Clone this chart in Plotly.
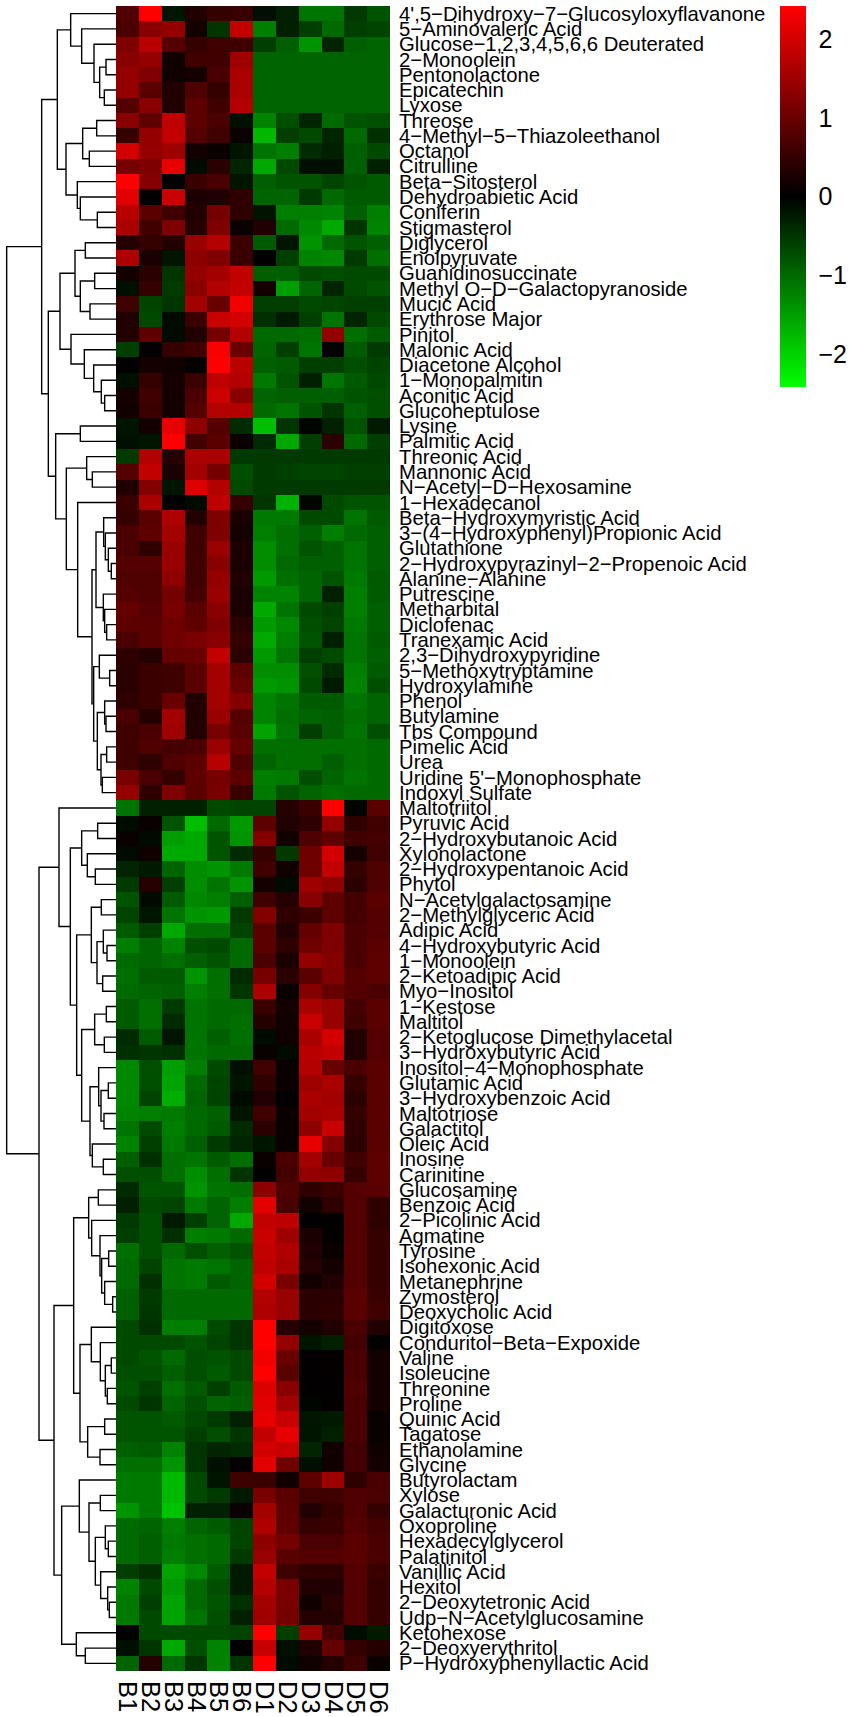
import plotly.graph_objects as go

COLUMNS = ["B1","B2","B3","B4","B5","B6","D1","D2","D3","D4","D5","D6"]
ROWS = [
"4',5−Dihydroxy−7−Glucosyloxyflavanone","5−Aminovaleric Acid","Glucose−1,2,3,4,5,6,6 Deuterated","2−Monoolein","Pentonolactone","Epicatechin","Lyxose","Threose","4−Methyl−5−Thiazoleethanol","Octanol","Citrulline","Beta−Sitosterol","Dehydroabietic Acid","Coniferin","Stigmasterol","Diglycerol","Enolpyruvate","Guanidinosuccinate","Methyl O−D−Galactopyranoside","Mucic Acid","Erythrose Major","Pinitol","Malonic Acid","Diacetone Alcohol","1−Monopalmitin","Aconitic Acid","Glucoheptulose","Lysine","Palmitic Acid","Threonic Acid","Mannonic Acid","N−Acetyl−D−Hexosamine","1−Hexadecanol","Beta−Hydroxymyristic Acid","3−(4−Hydroxyphenyl)Propionic Acid","Glutathione","2−Hydroxypyrazinyl−2−Propenoic Acid","Alanine−Alanine","Putrescine","Metharbital","Diclofenac","Tranexamic Acid","2,3−Dihydroxypyridine","5−Methoxytryptamine","Hydroxylamine","Phenol","Butylamine","Tbs Compound","Pimelic Acid","Urea","Uridine 5'−Monophosphate","Indoxyl Sulfate","Maltotriitol","Pyruvic Acid","2−Hydroxybutanoic Acid","Xylonolactone","2−Hydroxypentanoic Acid","Phytol","N−Acetylgalactosamine","2−Methylglyceric Acid","Adipic Acid","4−Hydroxybutyric Acid","1−Monoolein","2−Ketoadipic Acid","Myo−Inositol","1−Kestose","Maltitol","2−Ketoglucose Dimethylacetal","3−Hydroxybutyric Acid","Inositol−4−Monophosphate","Glutamic Acid","3−Hydroxybenzoic Acid","Maltotriose","Galactitol","Oleic Acid","Inosine","Carinitine","Glucosamine","Benzoic Acid","2−Picolinic Acid","Agmatine","Tyrosine","Isohexonic Acid","Metanephrine","Zymosterol","Deoxycholic Acid","Digitoxose","Conduritol−Beta−Expoxide","Valine","Isoleucine","Threonine","Proline","Quinic Acid","Tagatose","Ethanolamine","Glycine","Butyrolactam","Xylose","Galacturonic Acid","Oxoproline","Hexadecylglycerol","Palatinitol","Vanillic Acid","Hexitol","2−Deoxytetronic Acid","Udp−N−Acetylglucosamine","Ketohexose","2−Deoxyerythritol","P−Hydroxyphenyllactic Acid",
]

VALUES = [
[0.75,2.42,-0.2,0.3,0.5,0.55,-0.15,-0.3,-1.1,-1.1,-0.55,-0.8],
[0.7,1.3,1.4,0.2,-0.5,1.85,-1.2,-0.3,-0.6,-1.0,-0.6,-0.65],
[1.2,1.75,0.8,0.5,0.6,0.6,-0.6,-0.9,-1.4,-0.35,-0.9,-0.95],
[1.3,1.4,0.15,0.6,0.6,1.5,-0.95,-0.95,-0.95,-0.95,-0.95,-0.95],
[1.4,1.2,0.15,0.2,0.7,1.6,-0.95,-0.95,-0.95,-0.95,-0.95,-0.95],
[1.4,0.85,0.3,0.75,0.5,1.6,-0.95,-0.95,-0.95,-0.95,-0.95,-0.95],
[0.8,1.3,0.3,0.9,0.6,1.7,-0.95,-0.95,-0.95,-0.95,-0.95,-0.95],
[1.3,0.9,1.8,0.9,0.7,-0.15,-1.25,-0.75,-0.35,-1.0,-0.8,-0.75],
[0.5,1.4,1.85,0.8,0.6,0.1,-1.75,-0.6,-0.7,-0.35,-1.0,-0.45],
[2.0,1.4,1.5,0.2,0.1,-0.2,-1.1,-1.2,-0.4,-0.3,-0.9,-0.7],
[1.1,1.2,2.2,-0.1,0.4,-0.35,-1.6,-0.7,-0.15,-0.15,-0.9,-0.3],
[2.42,1.25,0.02,0.55,0.7,-0.2,-0.9,-0.8,-0.8,-0.65,-0.8,-0.85],
[2.15,0.02,1.9,0.25,0.3,0.45,-0.95,-0.95,-0.55,-1.0,-0.85,-0.85],
[1.75,0.85,0.6,0.3,1.1,0.45,-0.2,-1.2,-1.2,-1.25,-0.9,-1.2],
[1.6,0.6,1.2,0.35,1.2,0.1,0.3,-1.0,-1.3,-1.6,-0.5,-1.25],
[0.35,0.5,0.3,1.45,1.7,0.55,-0.85,-0.2,-1.4,-1.0,-0.8,-0.9],
[1.65,0.25,-0.2,1.35,1.2,0.55,0.02,-0.6,-1.25,-1.3,-0.55,-1.05],
[0.2,0.4,-0.5,1.4,1.55,1.85,-0.9,-0.9,-0.7,-0.75,-0.7,-0.7],
[-0.15,0.5,-0.55,1.3,1.7,1.85,0.2,-1.5,-0.95,-0.35,-0.7,-0.8],
[0.6,-0.65,-0.5,1.55,1.0,2.3,-0.6,-0.6,-0.7,-0.65,-0.6,-0.6],
[0.3,-0.7,-0.1,0.55,1.9,2.0,-0.45,-0.25,-0.6,-1.1,-0.35,-0.7],
[0.3,0.9,-0.1,0.3,1.1,1.7,-1.0,-1.0,-1.05,1.4,-1.05,-0.85],
[-0.6,0.02,0.5,0.6,2.35,1.0,-0.95,-0.6,-1.1,0.05,-0.85,-0.55],
[0.02,0.2,0.15,0.05,2.4,1.75,-0.9,-0.85,-0.6,-0.6,-0.75,-0.65],
[-0.15,0.5,0.2,0.55,1.8,1.7,-1.15,-0.8,-0.3,-1.1,-0.85,-0.7],
[0.2,0.6,0.2,0.7,1.95,1.3,-0.95,-0.9,-0.9,-0.9,-0.8,-0.75],
[0.15,0.55,0.2,0.8,1.7,1.7,-1.0,-1.1,-0.8,-0.5,-0.9,-0.75],
[-0.2,0.2,2.2,1.35,0.8,-0.4,-1.8,-0.5,-0.05,-0.3,-0.8,-0.25],
[-0.15,-0.2,2.4,0.6,0.85,0.1,-0.4,-1.6,-0.6,0.4,-1.0,-0.6],
[-0.55,1.7,0.35,1.6,1.6,-0.55,-0.55,-0.55,-0.55,-0.55,-0.55,-0.55],
[0.8,1.85,0.25,1.55,1.1,-0.75,-0.55,-0.6,-0.65,-0.65,-0.6,-0.6],
[0.3,1.25,-0.2,2.1,1.7,-0.7,-0.55,-0.55,-0.55,-0.55,-0.55,-0.55],
[0.55,1.6,0.01,-0.1,1.8,0.5,-0.5,-1.7,-0.05,-0.7,-0.8,-0.8],
[0.5,0.85,1.65,0.3,1.2,0.25,-1.15,-1.15,-0.7,-0.7,-1.1,-0.85],
[0.7,0.9,1.55,0.6,1.2,0.2,-1.2,-1.05,-0.9,-1.2,-1.0,-0.9],
[0.7,0.45,1.45,0.6,1.45,0.25,-1.35,-1.05,-0.8,-0.9,-1.1,-0.9],
[0.8,0.8,1.45,0.6,1.3,0.25,-1.35,-1.0,-0.9,-0.9,-1.1,-0.9],
[0.75,0.75,1.35,0.6,1.4,0.3,-1.45,-1.05,-0.95,-0.8,-1.15,-0.85],
[0.8,0.75,1.1,0.65,1.45,0.25,-1.25,-1.25,-0.95,-0.3,-1.2,-0.85],
[0.95,0.8,1.15,0.85,1.3,0.25,-1.6,-1.1,-0.7,-0.6,-1.2,-0.9],
[0.9,0.85,1.05,0.9,1.2,0.4,-1.45,-1.3,-0.75,-0.65,-1.15,-0.9],
[0.7,0.85,1.05,1.15,1.3,0.5,-1.6,-1.2,-0.8,-0.3,-1.1,-0.85],
[0.45,0.35,0.95,1.0,1.85,0.4,-1.45,-1.1,-0.6,-0.7,-1.1,-0.9],
[0.4,0.55,0.6,0.85,1.55,0.9,-1.35,-1.35,-0.75,-0.4,-1.2,-0.85],
[0.4,0.55,0.6,0.85,1.55,1.0,-1.45,-1.4,-0.7,-0.25,-1.25,-0.75],
[0.45,0.55,1.0,0.3,1.55,1.25,-1.25,-1.1,-0.85,-0.85,-1.1,-0.95],
[0.7,0.35,1.55,0.3,1.45,0.8,-1.25,-1.05,-0.95,-0.9,-1.05,-0.95],
[0.6,0.7,1.5,0.3,1.15,0.85,-1.55,-1.1,-0.6,-0.9,-1.1,-0.75],
[0.6,0.75,0.65,0.7,1.45,0.95,-1.05,-1.05,-1.05,-1.05,-1.05,-1.0],
[0.6,0.45,0.75,0.85,1.75,0.75,-0.95,-1.05,-1.05,-0.9,-1.05,-1.0],
[1.15,0.7,0.5,0.9,1.1,0.9,-1.2,-1.15,-0.75,-0.95,-1.1,-1.0],
[1.4,0.45,1.2,0.85,1.15,0.55,-1.15,-0.8,-0.95,-1.05,-1.0,-1.0],
[-1.1,-0.3,-0.3,-0.3,-0.7,-0.65,-0.65,0.35,0.55,2.42,-0.05,0.85],
[-0.1,0.1,-0.8,-1.8,-1.0,-1.45,0.9,0.3,0.45,1.4,0.45,0.6],
[0.1,-0.1,-1.5,-1.6,-0.8,-1.4,1.25,0.15,0.75,0.9,0.6,0.65],
[-0.1,0.15,-1.6,-1.6,-0.8,-0.4,0.5,-0.55,1.05,2.0,0.2,0.6],
[-0.35,-0.25,-0.95,-1.35,-1.4,-1.15,0.6,0.15,1.05,1.85,0.5,0.75],
[-0.55,0.35,-0.6,-1.35,-1.1,-1.4,0.2,-0.1,1.5,1.35,0.4,0.75],
[-0.8,-0.1,-0.85,-1.3,-1.2,-0.9,0.6,0.35,1.3,0.9,0.65,0.85],
[-0.65,-0.2,-1.1,-1.4,-1.45,-0.55,1.25,0.45,0.55,0.9,0.65,0.8],
[-0.85,-0.6,-1.6,-1.05,-1.05,-0.65,0.85,0.3,0.95,1.2,0.7,0.8],
[-1.2,-0.95,-1.25,-0.75,-0.7,-1.0,0.85,0.45,1.05,1.2,0.7,0.85],
[-1.0,-0.95,-1.05,-0.9,-0.8,-1.0,0.7,0.25,1.4,1.25,0.7,0.9],
[-1.05,-0.85,-0.85,-1.4,-1.05,-0.4,1.1,0.4,0.85,1.2,0.8,0.9],
[-1.0,-0.95,-0.9,-1.2,-1.05,-0.5,1.65,0.1,1.25,0.95,0.8,0.7],
[-0.85,-1.05,-0.55,-1.1,-1.0,-1.0,0.55,0.2,1.6,1.45,0.65,0.85],
[-0.85,-1.05,-0.4,-1.1,-1.0,-1.05,0.35,0.15,1.9,1.45,0.6,0.85],
[-0.4,-0.85,-0.2,-1.1,-0.9,-1.05,-0.1,0.15,1.6,2.0,0.3,0.8],
[-0.45,-0.5,-0.45,-1.1,-1.0,-1.0,0.1,-0.1,1.75,1.85,0.3,0.8],
[-1.3,-0.75,-1.5,-1.2,-0.7,-0.15,0.6,0.1,1.7,1.0,0.7,0.85],
[-1.3,-0.75,-1.55,-1.0,-0.65,-0.2,0.45,0.1,1.5,1.6,0.5,0.85],
[-1.3,-0.65,-1.65,-0.95,-0.65,-0.1,0.3,0.02,1.6,1.55,0.4,0.85],
[-1.25,-1.2,-1.15,-1.0,-0.9,-0.2,0.6,0.1,1.55,1.6,0.5,0.85],
[-1.1,-0.7,-1.2,-1.0,-0.85,-0.4,0.4,0.1,1.35,1.9,0.45,0.85],
[-1.25,-0.6,-1.15,-0.9,-0.55,-0.35,-0.2,0.1,2.2,1.25,0.4,0.85],
[-0.9,-0.45,-1.05,-1.1,-0.85,-1.05,0.1,0.7,1.55,1.0,0.6,0.9],
[-0.75,-0.75,-1.05,-1.35,-1.05,-0.5,0.02,0.65,1.4,1.35,0.5,0.9],
[-0.4,-0.8,-0.8,-1.4,-1.1,-1.05,1.35,0.75,0.45,0.55,0.8,0.85],
[-0.3,-0.7,-0.65,-1.15,-0.95,-1.2,2.15,0.7,0.15,0.45,0.8,0.45],
[-0.55,-0.75,-0.25,-0.6,-0.95,-1.6,1.85,1.8,0.02,0.02,0.8,0.45],
[-0.6,-0.75,-0.45,-1.2,-1.15,-1.0,1.9,1.5,0.25,0.05,0.8,0.5],
[-1.05,-0.75,-1.0,-0.75,-0.9,-0.8,1.85,1.65,0.3,0.1,0.8,0.5],
[-1.0,-0.65,-1.1,-1.15,-1.1,-0.95,1.8,1.6,0.35,0.2,0.8,0.5],
[-1.0,-0.45,-1.1,-1.15,-0.85,-0.95,2.0,1.15,0.15,0.3,0.8,0.5],
[-0.9,-0.55,-1.0,-1.0,-1.0,-1.0,1.7,1.45,0.4,0.4,0.85,0.55],
[-0.9,-0.5,-1.0,-1.0,-1.0,-1.0,1.65,1.45,0.4,0.45,0.85,0.6],
[-0.7,-0.45,-1.2,-1.2,-0.7,-0.5,2.42,0.35,0.2,0.3,0.7,0.3],
[-0.7,-0.7,-0.7,-0.8,-0.65,-0.5,2.42,1.4,-0.2,-0.3,0.65,0.02],
[-0.7,-0.8,-1.0,-0.75,-0.8,-0.7,2.3,1.0,0.02,0.05,0.7,0.2],
[-0.75,-0.75,-0.9,-0.75,-0.85,-0.7,2.4,0.85,0.02,0.05,0.7,0.2],
[-0.8,-0.6,-1.05,-0.85,-0.6,-0.85,2.1,1.3,0.02,0.02,0.75,0.2],
[-0.7,-0.5,-0.95,-0.75,-0.95,-0.9,2.15,1.55,-0.05,0.05,0.7,0.2],
[-0.8,-0.8,-0.85,-0.7,-0.55,-0.3,2.2,1.9,-0.2,-0.25,0.7,0.1],
[-0.8,-0.8,-0.8,-0.6,-0.75,-0.5,1.85,2.2,-0.2,-0.3,0.7,0.1],
[-0.9,-0.85,-1.25,-0.5,-0.35,-0.4,2.0,1.9,-0.35,0.15,0.65,0.15],
[-1.05,-1.05,-1.4,-0.5,-0.15,0.05,2.15,1.05,-0.15,0.15,0.65,0.2],
[-1.15,-1.15,-1.75,-0.7,-0.2,0.6,0.55,0.15,0.9,1.5,0.45,0.7],
[-1.15,-1.15,-1.75,-0.7,-0.55,-0.25,1.15,0.85,0.6,0.6,0.75,0.7],
[-1.4,-1.15,-1.85,-0.3,-0.3,0.1,1.55,0.9,0.3,0.5,0.75,0.5],
[-1.0,-0.95,-1.2,-0.95,-0.85,-0.65,1.65,0.9,0.5,0.55,0.8,0.65],
[-1.0,-0.9,-1.15,-1.05,-1.0,-0.65,1.35,1.1,0.7,0.7,0.85,0.7],
[-1.0,-0.9,-1.2,-1.05,-1.0,-0.55,1.45,0.85,0.8,0.8,0.85,0.7],
[-0.6,-0.45,-1.55,-1.3,-0.85,-0.25,1.85,0.6,0.45,0.45,0.8,0.55],
[-1.25,-0.7,-1.45,-1.0,-0.75,-0.25,1.7,1.15,0.3,0.3,0.8,0.5],
[-1.15,-0.6,-1.55,-1.0,-0.8,-0.45,1.55,1.15,0.15,0.4,0.8,0.5],
[-1.15,-0.7,-1.55,-1.1,-0.75,-0.3,1.5,1.1,0.35,0.35,0.8,0.5],
[0.02,-0.7,-0.7,-0.7,-0.7,-0.65,2.42,-0.6,1.4,0.65,-0.1,-0.25],
[-0.15,-0.5,-1.6,-0.75,-1.25,0.02,1.9,-0.15,0.3,0.95,0.5,0.35],
[-0.95,0.35,-1.0,-0.5,-1.25,-0.5,2.42,-0.1,0.15,0.35,0.6,0.1],
]

# Row dendrogram: (merge distance, upper child, lower child); L is a single row.
L = None
ROW_TREE = (328,
 (223,
  (176,
   (136, L, (103, L, (66, L, (49, (30, L, L), (35, L, L))))),
   (150,
    (100, (58, L, L), (80, L, L)),
    (116, L, (107, L, (56, L, L))))),
  (203,
   (168,
    (123, (92, L, L), (107, (64, L, L), (78, L, L))),
    (135, L, (95, L, (67, L, (44, L, (34, L, L)))))),
   (181,
    (107, L, L),
    (149,
     (88, L, (71, L, L)),
     (115, L,
      (72,
       (60,
        (37, L, (32, L, (23, L, (14, L, L)))),
        (38, L, (34, L, (28, L, L)))),
       (67,
        (50, L, (19, L, L)),
        (56,
         (34, L, (30, L, L)),
         (45, (28, L, L), (41, L, L)))))))))),
 (231,
  (171, L,
   (137,
    (103, (55, L, L), (86, L, (62, L, L))),
    (118,
     (74, (44, L, L), (57, (38, L, (27, L, L)), (40, L, L))),
     (103,
      (64, (29, L, L), (35, L, L)),
      (78,
       (52, L, (45, (23, L, L), (36, L, L))),
       (71, L, (38, L, L))))))),
  (186,
   (127,
    (82, (53, L, L), (73, L, (48, L, (43, (22, L, L), (34, L, (10, L, L)))))),
    (108,
     (74, L, (47, L, (32, (14, L, L), (26, L, L)))),
     (85, (34, L, L), (48, L, L)))),
   (163,
    (110, L,
     (81, (47, L, L),
      (62, (32, L, (23, L, L)), (46, L, (25, L, (20, L, L)))))),
    (119, L, (92, L, L))))))

W, H = 850, 1717
Z_MAX = 2.42
COLOR_TICKS = [-2, -1, 0, 1, 2]

dx, dy = [], []
next_row = [0]
def walk(node):
    if node is None:
        r = next_row[0]
        next_row[0] += 1
        return 0, r
    h, a, b = node
    ha, ya = walk(a)
    hb, yb = walk(b)
    dx.extend([ha, h, h, hb, None])
    dy.extend([ya, ya, yb, yb, None])
    return h, (ya + yb) / 2
walk(ROW_TREE)
n = next_row[0]
assert n == len(ROWS) == len(VALUES), (n, len(ROWS), len(VALUES))

FONT = "Liberation Sans, Arial, sans-serif"
fig = go.Figure()
fig.add_trace(go.Heatmap(
    z=VALUES, x=COLUMNS, y=list(range(n)),
    zmin=-Z_MAX, zmax=Z_MAX, xgap=0, ygap=0,
    colorscale=[[0, "#00FF00"], [0.5, "#000000"], [1, "#FF0000"]],
    colorbar=dict(
        x=780/W, xanchor="left", y=1-6/H, yanchor="top",
        thicknessmode="pixels", thickness=26, lenmode="pixels", len=381,
        xpad=0, ypad=0, outlinewidth=0, borderwidth=0,
        tickmode="array", tickvals=COLOR_TICKS, ticks="outside", ticklen=8,
        tickcolor="rgba(0,0,0,0)", tickfont=dict(size=25, family=FONT, color="black"),
    ),
    xaxis="x", yaxis="y", hoverinfo="skip",
))
fig.add_trace(go.Scatter(
    x=dx, y=dy, mode="lines", line=dict(color="black", width=1.4, shape="linear"),
    xaxis="x2", yaxis="y2", showlegend=False, hoverinfo="skip", connectgaps=False,
))

y_dom = [1-1671/H, 1-6/H]
fig.update_layout(
    width=W, height=H, paper_bgcolor="white", plot_bgcolor="white",
    margin=dict(l=0, r=0, t=0, b=0, pad=0, autoexpand=False),
    xaxis=dict(domain=[116/W, 390/W], side="bottom", tickangle=90, showgrid=False, zeroline=False,
               showline=False, tickmode="array", tickvals=COLUMNS, ticktext=COLUMNS,
               ticks="outside", ticklen=4, tickcolor="rgba(0,0,0,0)",
               tickfont=dict(size=25.5, family=FONT, color="black"), automargin=False),
    yaxis=dict(domain=y_dom, range=[n-0.5, -0.5], side="right", showgrid=False, zeroline=False,
               showline=False, tickmode="array", tickvals=list(range(n)), ticktext=ROWS,
               ticks="outside", ticklen=4, tickcolor="rgba(0,0,0,0)",
               tickfont=dict(size=20.3, family=FONT, color="black"), automargin=False),
    xaxis2=dict(domain=[0, 116/W], range=[348, 0], visible=False, anchor="y2"),
    yaxis2=dict(domain=y_dom, range=[n-0.5, -0.5], visible=False, anchor="x2"),
)
fig.write_html("out.html", config=dict(displayModeBar=False),
               post_script="document.body.style.margin='0';window.dispatchEvent(new Event('resize'));")
